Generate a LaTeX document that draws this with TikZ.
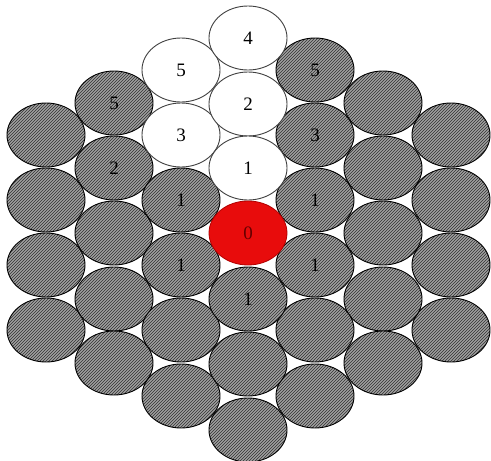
\documentclass[tikz,border=0pt]{standalone}
\usepackage{fontspec}
\setmainfont{Liberation Serif}
\usetikzlibrary{shapes.geometric,patterns}
\definecolor{hatchbg}{RGB}{160,160,160}
\definecolor{hatchfg}{RGB}{50,50,50}
\definecolor{redcell}{RGB}{232,12,12}
\tikzset{
  cellbase/.style={ellipse, minimum width=78pt, minimum height=64pt, inner sep=0pt,
    font=\fontsize{19}{22}\selectfont},
  whitecell/.style={cellbase, draw=black!75, line width=0.9pt, fill=white},
  graycell/.style={cellbase, draw=black, line width=0.9pt,
    preaction={fill=hatchbg}, pattern=north east lines, pattern color=hatchfg},
  redcell/.style={cellbase, draw=red!70!black, line width=0.8pt, fill=redcell, text=red!40!black},
}
\begin{document}
\begin{tikzpicture}[x=1pt,y=-1pt]
\useasboundingbox (0,0) rectangle (491,461);
% column 0
\node[graycell] (c0a) at (46,135) {};
\node[graycell] (c0b) at (46,200) {};
\node[graycell] (c0c) at (46,265) {};
\node[graycell] (c0d) at (46,330) {};
% column 6
\node[graycell] (c6a) at (451,135) {};
\node[graycell] (c6b) at (451,200) {};
\node[graycell] (c6c) at (451,265) {};
\node[graycell] (c6d) at (451,330) {};
% column 1
\node[graycell] (c1a) at (114,103) {5};
\node[graycell] (c1b) at (114,168) {2};
\node[graycell] (c1c) at (114,233) {};
\node[graycell] (c1d) at (114,299) {};
\node[graycell] (c1e) at (114,363) {};
% column 5
\node[graycell] (c5a) at (383,103) {};
\node[graycell] (c5b) at (383,168) {};
\node[graycell] (c5c) at (383,233) {};
\node[graycell] (c5d) at (383,299) {};
\node[graycell] (c5e) at (383,363) {};
% column 2
\node[whitecell] (c2a) at (181,70) {5};
\node[whitecell] (c2b) at (181,135) {3};
\node[graycell] (c2c) at (181,200) {1};
\node[graycell] (c2d) at (181,265) {1};
\node[graycell] (c2e) at (181,330) {};
\node[graycell] (c2f) at (181,396) {};
% column 4
\node[graycell] (c4a) at (315,70) {5};
\node[graycell] (c4b) at (315,135) {3};
\node[graycell] (c4c) at (315,200) {1};
\node[graycell] (c4d) at (315,265) {1};
\node[graycell] (c4e) at (315,330) {};
\node[graycell] (c4f) at (315,396) {};
% column 3
\node[whitecell] (c3a) at (248,38) {4};
\node[whitecell] (c3b) at (248,104) {2};
\node[whitecell] (c3c) at (248,168) {1};
\node[redcell] (c3d) at (248,233) {0};
\node[graycell] (c3e) at (248,299) {1};
\node[graycell] (c3f) at (248,364) {};
\node[graycell] (c3g) at (248,430) {};
\end{tikzpicture}
\end{document}
